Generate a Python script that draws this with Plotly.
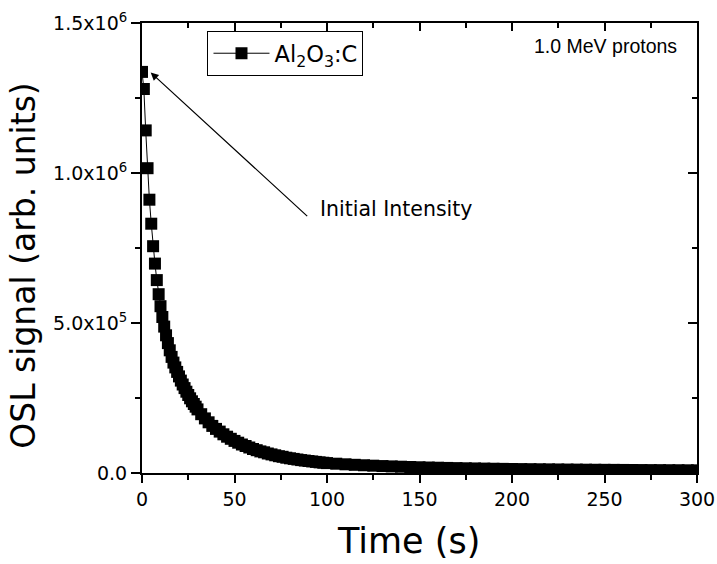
import plotly.graph_objects as go

# Sampling times (s) and OSL signal values (arb. units)
time_s = list(range(0, 31)) + list(range(32, 101, 2)) + list(range(105, 301, 5))
osl_signal = [
    1337000, 1280000, 1142000, 1016000, 911000, 831000, 756000, 698000, 643000, 596000,
    556000, 520000, 488000, 459000, 433000, 409000, 387000, 368000, 352000, 337000,
    322000, 308000, 295000, 283000, 271000, 260000, 249000, 239000, 230000, 221000,
    212000,
    196000, 182000, 169000, 157000, 147000, 138000, 129000, 121000, 114000, 107000,
    101000, 95000, 90000, 85000, 80000, 76000, 72000, 69000, 65000, 62000,
    59000, 56000, 54000, 51000, 49000, 47000, 45000, 43000, 41500, 40000,
    38500, 37000, 35500, 34200, 33000,
    31000, 29000, 27300, 25800, 24400, 23100, 22000, 21000, 20000, 19100,
    18300, 17600, 16900, 16300, 15700, 15200, 14700, 14200, 13800, 13400,
    13000, 12700, 12400, 12100, 11800, 11500, 11300, 11000, 10800, 10600,
    10400, 10200, 10000, 9800, 9600, 9500, 9300, 9200, 9000, 8900,
]

x_ticks = [0, 50, 100, 150, 200, 250, 300]
y_tickvals = [0, 500000, 1000000, 1500000]
y_ticktext = ["0.0", "5.0x10<sup>5</sup>", "1.0x10<sup>6</sup>", "1.5x10<sup>6</sup>"]
series_name = "Al<sub>2</sub>O<sub>3</sub>:C"

FONT = "DejaVu Sans, Liberation Sans, Arial, sans-serif"
FONT_A = "Liberation Sans, Arial, sans-serif"

fig = go.Figure()
fig.add_trace(go.Scatter(
    x=time_s, y=osl_signal, mode="lines+markers", name=series_name,
    line=dict(color="black", width=1),
    marker=dict(symbol="square", size=12, color="black", line=dict(width=0)),
    cliponaxis=True,
))
# invisible copy so that the mirrored (top/right) frame axes get drawn
fig.add_trace(go.Scatter(
    x=time_s, y=osl_signal, mode="markers", xaxis="x2", yaxis="y2",
    marker=dict(opacity=0), showlegend=False, hoverinfo="skip",
))

axis_common = dict(showline=True, linecolor="black", linewidth=2, showgrid=False,
                   zeroline=False, tickcolor="black", tickwidth=1.5, automargin=False)

fig.update_layout(
    width=717, height=564,
    margin=dict(l=142, r=20, t=23, b=91),
    paper_bgcolor="white", plot_bgcolor="white",
    font=dict(family=FONT, color="black"),
    showlegend=True,
    legend=dict(x=0.118, y=0.982, xanchor="left", yanchor="top",
                bordercolor="black", borderwidth=1, bgcolor="white",
                font=dict(size=22.5, family=FONT), itemwidth=56,
                tracegroupgap=0),
    xaxis=dict(range=[0, 300], tickvals=x_ticks, ticks="outside", ticklen=8,
               tickfont=dict(size=19, family=FONT),
               minor=dict(ticks="outside", ticklen=5, dtick=25,
                          tickcolor="black", tickwidth=1.5),
               **axis_common),
    yaxis=dict(range=[0, 1500000], tickvals=y_tickvals, ticktext=y_ticktext,
               ticks="outside", ticklen=9, tickfont=dict(size=19, family=FONT),
               minor=dict(ticks="outside", ticklen=5, dtick=250000,
                          tickcolor="black", tickwidth=1.5),
               **axis_common),
    xaxis2=dict(range=[0, 300], overlaying="x", side="top", anchor="y2",
                tickvals=x_ticks, ticks="inside", ticklen=8, showticklabels=False,
                minor=dict(ticks="inside", ticklen=5, dtick=25, tickcolor="black", tickwidth=1.5),
                **axis_common),
    yaxis2=dict(range=[0, 1500000], overlaying="y", side="right", anchor="x2",
                tickvals=y_tickvals, ticks="inside", ticklen=9, showticklabels=False,
                minor=dict(ticks="inside", ticklen=5, dtick=250000, tickcolor="black", tickwidth=1.5),
                **axis_common),
    annotations=[
        dict(text="Time (s)", xref="paper", yref="paper", x=0.48, y=-0.15,
             xanchor="center", yanchor="middle", showarrow=False,
             font=dict(size=35, family=FONT)),
        dict(text="OSL signal (arb. units)", xref="paper", yref="paper",
             x=-0.215, y=0.462, xanchor="center", yanchor="middle",
             textangle=-90, showarrow=False, font=dict(size=33, family=FONT)),
        dict(text="1.0 MeV protons", xref="paper", yref="paper", x=0.967, y=0.949,
             xanchor="right", yanchor="middle", showarrow=False,
             font=dict(size=19.5, family=FONT_A)),
        dict(text="Initial Intensity", xref="paper", yref="paper", x=0.318, y=0.587,
             xanchor="left", yanchor="middle", showarrow=False,
             font=dict(size=20.5, family=FONT)),
        dict(text="", x=4.7, y=1335000, xref="x", yref="y", showarrow=True,
             ax=158, ay=145, arrowhead=2, arrowsize=1.3, arrowwidth=1.2,
             arrowcolor="black", standoff=0),
    ],
)

fig.write_html("out.html", config={"displayModeBar": False},
               post_script="document.body.style.margin='0';")
